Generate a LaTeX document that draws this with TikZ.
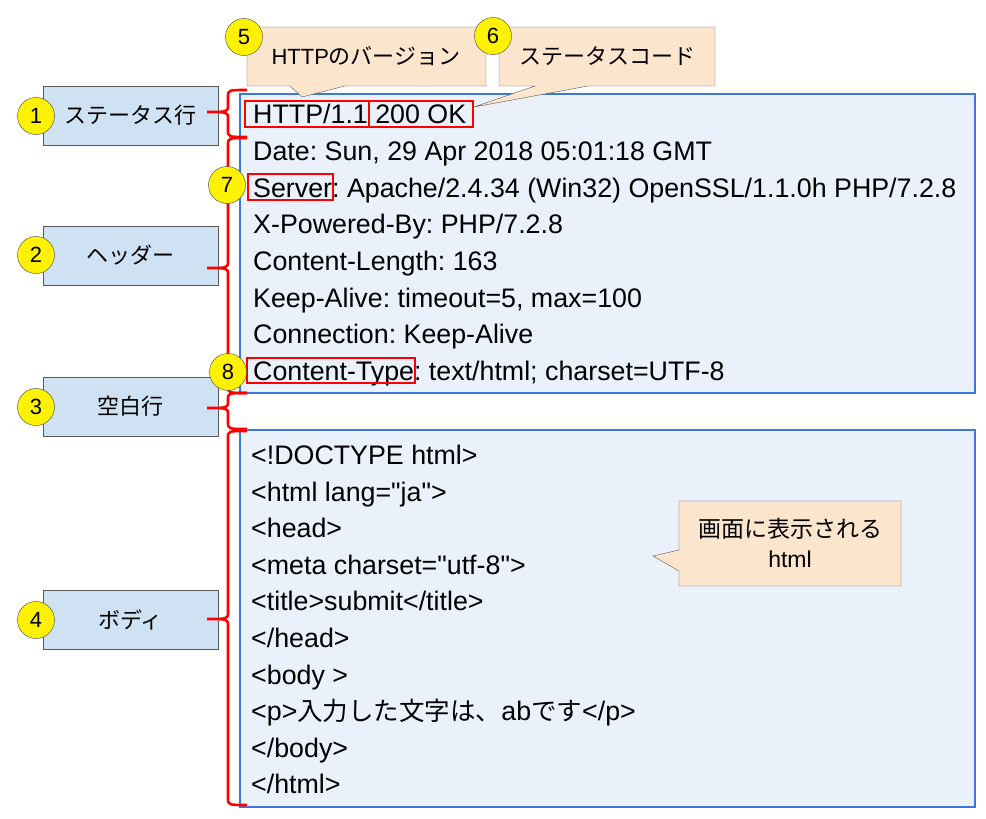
\documentclass[tikz,border=0pt]{standalone}
\usepackage{fontspec}
\setmainfont{Liberation Sans}
\newfontfamily\codefont{Liberation Sans}
\newfontfamily\jp{Noto Sans CJK JP}
\usepackage{xcolor}
\usetikzlibrary{positioning}
\frenchspacing

\definecolor{lblblue}{HTML}{CFE2F3}
\definecolor{boxblue}{HTML}{EAF1FB}
\definecolor{edgeblue}{HTML}{3C78D8}
\definecolor{peach}{HTML}{FCE5CD}
\definecolor{edgegray}{HTML}{595959}

\newcommand{\codesize}{\fontsize{26.8}{30}\selectfont}
\newcommand{\labsize}{\fontsize{22}{26}\selectfont}
\newcommand{\redbrace}[3]{\draw[brace] (247,#1) .. controls (228,#1) .. (228,#1+7) -- (228,#2-7) .. controls (228,#2) .. (207,#2) .. controls (228,#2) .. (228,#2+7) -- (228,#3-7) .. controls (228,#3) .. (247,#3);}

\begin{document}
\begin{tikzpicture}[x=1pt,y=-1pt,
            lbl/.style={draw=edgegray, fill=lblblue, minimum width=175pt, minimum height=59pt, font=\labsize\jp},
            num/.style={shape=circle, draw=black!75, fill=yellow, minimum size=37pt, inner sep=0pt, font=\labsize},
            callout/.style={draw=edgegray, fill=peach},
            panel/.style={draw=edgeblue, fill=boxblue, line width=1.2pt},
            line/.style={anchor=base west, inner sep=0pt, font=\codefont\codesize},
            redbox/.style={draw=red, line width=1.3pt},
            brace/.style={draw=red, line width=2.6pt}]
        \useasboundingbox (0,0) rectangle (986,819);

        \draw[panel] (240,94) rectangle (975,393);
        \draw[panel] (240,430) rectangle (975,807);

        \node[lbl] (status) at (130.5,115.5) {ステータス行};
        \node[lbl] (header) at (130.5,255.5) {ヘッダー};
        \node[lbl] (blank) at (130.5,406.5) {空白行};
        \node[lbl] (body) at (130.5,619.5) {ボディ};

        \redbrace{90}{112}{137}
        \redbrace{138}{268}{393}
        \redbrace{393}{408}{429}
        \redbrace{431}{619}{805}

        \node[num] (n1) at (36,116) {1};
        \node[num] (n2) at (36,255) {2};
        \node[num] (n3) at (36,407) {3};
        \node[num] (n4) at (36,620) {4};

        \node[line] (h1) at (253,123) {HTTP/1.1 200 OK};
        \node[line] (h2) at (253,160) {Date: Sun, 29 Apr 2018 05:01:18 GMT};
        \node[line] (h3) at (253,197) {Server: Apache/2.4.34 (Win32) OpenSSL/1.1.0h PHP/7.2.8};
        \node[line] (h4) at (253,233) {X-Powered-By: PHP/7.2.8};
        \node[line] (h5) at (253,270) {Content-Length: 163};
        \node[line] (h6) at (253,307) {Keep-Alive: timeout=5, max=100};
        \node[line] (h7) at (253,343) {Connection: Keep-Alive};
        \node[line] (h8) at (253,380) {Content-Type: text/html; charset=UTF-8};

        \draw[redbox] (245,101) rectangle (369,127);
        \draw[redbox] (369,101) rectangle (473,127);
        \draw[redbox] (248,174) rectangle (333,200);
        \draw[redbox] (247,358) rectangle (415,383);

        \node[line] (b1) at (251,464) {<!DOCTYPE html>};
        \node[line] (b2) at (251,501) {<html lang="ja">};
        \node[line] (b3) at (251,537) {<head>};
        \node[line] (b4) at (251,574) {<meta charset="utf-8">};
        \node[line] (b5) at (251,610) {<title>submit</title>};
        \node[line] (b6) at (251,647) {</head>};
        \node[line] (b7) at (251,684) {<body >};
        \node[line] (b8) at (251,720) {<p>{\jp\fontsize{25.5}{30}\selectfont 入力した文字は、}ab{\jp\fontsize{25.5}{30}\selectfont です}</p>};
        \node[line] (b9) at (251,757) {</body>};
        \node[line] (b10) at (251,793) {</html>};

        \draw[callout] (247,27) -- (486,27) -- (486,86) -- (345,86) -- (302,97) -- (290,86) -- (247,86) -- cycle;
        \node[font=\labsize] (version) at (366,56) {HTTP{\jp のバージョン}};
        \draw[callout] (499,27) -- (715,27) -- (715,86) -- (588,86) -- (474,107) -- (535,86) -- (499,86) -- cycle;
        \node[font=\labsize\jp] (code) at (607,56) {ステータスコード};
        \draw[callout] (679,501) -- (901,501) -- (901,586) -- (679,586) -- (679,571) -- (653,556) -- (679,550) -- cycle;
        \node[font=\fontsize{23}{30}\selectfont, align=center] (shown) at (790,543) {{\jp 画面に表示される}\\html};

        \node[num] (n5) at (244,37) {5};
        \node[num] (n6) at (493,36) {6};
        \node[num] (n7) at (227,185) {7};
        \node[num] (n8) at (228,372) {8};
    \end{tikzpicture}
\end{document}
